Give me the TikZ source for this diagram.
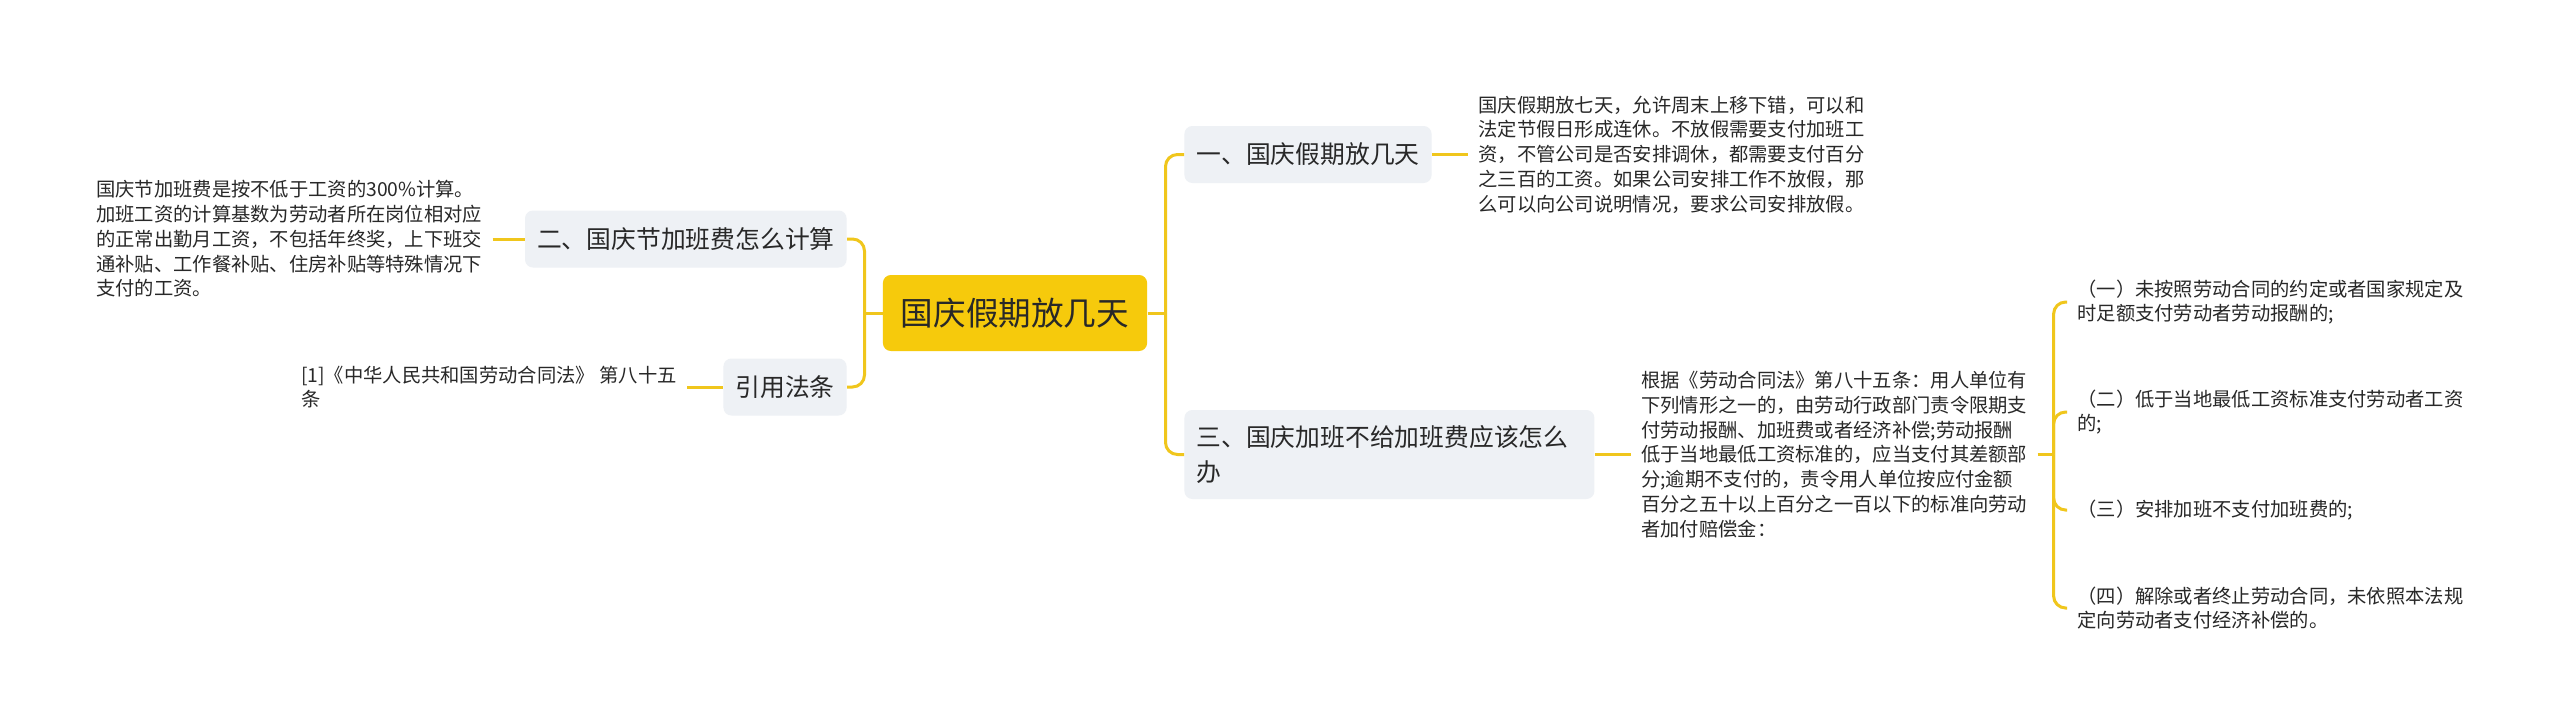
\documentclass[tikz,border=0pt]{standalone}
\usepackage{fontspec}
\setmainfont{Noto Sans CJK SC}
\usetikzlibrary{positioning}
\definecolor{mapyellow}{RGB}{246,202,12}
\definecolor{linkyellow}{RGB}{240,198,28}
\definecolor{topicgray}{RGB}{238,241,245}
\definecolor{inkgray}{RGB}{40,40,40}

\begin{document}
\begin{tikzpicture}[
    x=0.5pt, y=-0.5pt,
    node distance=18pt,
    root/.style={rectangle, fill=mapyellow, rounded corners=4pt, inner xsep=9pt, inner ysep=0pt, minimum height=38pt, text=inkgray, font=\fontsize{16.3pt}{20pt}\selectfont},
    topic/.style={rectangle, fill=topicgray, rounded corners=4pt, inner xsep=6pt, inner ysep=0pt, minimum height=28.5pt, text=inkgray, align=left, font=\fontsize{12.4pt}{17.5pt}\selectfont},
    note/.style={inner xsep=5pt, inner ysep=0pt, align=left, text=inkgray, font=\fontsize{9.65pt}{12.4pt}\selectfont},
    link/.style={draw=linkyellow, line width=1.5pt, rounded corners=6pt}
]
    \useasboundingbox[fill=white] (0,0) rectangle (2560,725);

    \node[root] (root) at (1015,313) {国庆假期放几天};

    \node[topic, anchor=west] (b1) at (1184,154.5) {一、国庆假期放几天};
    \node[topic, anchor=west, text width=193pt, minimum height=44.5pt] (b3) at (1184,454.5) {三、国庆加班不给加班费应该怎么\\办};
    \node[topic, anchor=east] (b2) at (847,239) {二、国庆节加班费怎么计算};
    \node[topic, anchor=east] (b4) at (847,387) {引用法条};

    \node[note, right=of b1] (t1) {国庆假期放七天，允许周末上移下错，可以和\\法定节假日形成连休。不放假需要支付加班工\\资，不管公司是否安排调休，都需要支付百分\\之三百的工资。如果公司安排工作不放假，那\\么可以向公司说明情况，要求公司安排放假。};
    \node[note, left=16pt of b2] (t2) {国庆节加班费是按不低于工资的300\%计算。\\加班工资的计算基数为劳动者所在岗位相对应\\的正常出勤月工资，不包括年终奖，上下班交\\通补贴、工作餐补贴、住房补贴等特殊情况下\\支付的工资。};
    \node[note, right=of b3] (t3) {根据《劳动合同法》第八十五条：用人单位有\\下列情形之一的，由劳动行政部门责令限期支\\付劳动报酬、加班费或者经济补偿;劳动报酬\\低于当地最低工资标准的，应当支付其差额部\\分;逾期不支付的，责令用人单位按应付金额\\百分之五十以上百分之一百以下的标准向劳动\\者加付赔偿金：};
    \node[note, left=of b4] (t4) {[1]《中华人民共和国劳动合同法》 第八十五\\条};

    \node[note, anchor=west] (s1) at (2067,302) {（一）未按照劳动合同的约定或者国家规定及\\时足额支付劳动者劳动报酬的;};
    \node[note, anchor=west] (s2) at (2067,412) {（二）低于当地最低工资标准支付劳动者工资\\的;};
    \node[note, anchor=west] (s3) at (2067,510) {（三）安排加班不支付加班费的;};
    \node[note, anchor=west] (s4) at (2067,608) {（四）解除或者终止劳动合同，未依照本法规\\定向劳动者支付经济补偿的。};

    \path (root.east) ++(18,0) coordinate (rj);
    \path (root.west) ++(-18,0) coordinate (lj);
    \path (t3.east) ++(16,0) coordinate (sj);

    \draw[link] (root.east) -- (rj);
    \draw[link] (b1.west) -| (rj);
    \draw[link] (b3.west) -| (rj);
    \draw[link] (root.west) -- (lj);
    \draw[link] (b2.east) -| (lj);
    \draw[link] (b4.east) -| (lj);

    \draw[link] (b1.east) -- (t1.west);
    \draw[link] (b3.east) -- (t3.west);
    \draw[link] (t2.east) -- (b2.west);
    \draw[link] (t4.east) -- (b4.west);

    \draw[link] (t3.east) -- (sj);
    \draw[link] (s1.west) -| (sj);
    \draw[link] (s2.west) -| (sj);
    \draw[link] (s3.west) -| (sj);
    \draw[link] (s4.west) -| (sj);
\end{tikzpicture}
\end{document}
